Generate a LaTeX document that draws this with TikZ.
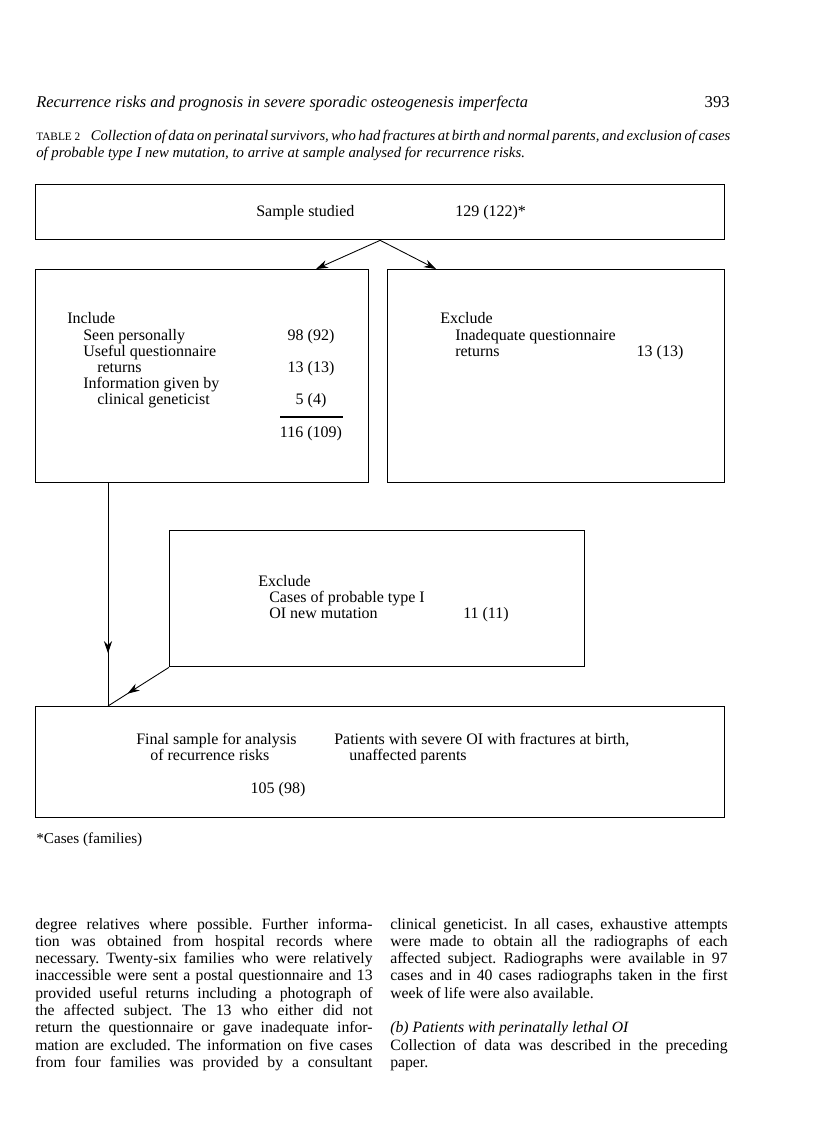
\documentclass[tikz,border=0pt]{standalone}
\usepackage{fontspec}
\setmainfont{Liberation Serif}
\usetikzlibrary{arrows.meta,decorations.markings,calc}
\frenchspacing
\newcommand{\jline}[1]{\makebox[253pt][s]{#1}}

\begin{document}
\begin{tikzpicture}[x=0.75pt,y=-0.75pt,
  box/.style={draw, line width=1pt, inner sep=0pt, anchor=north west},
  conn/.style={line width=0.65pt},
  tiparrow/.style={-{Stealth[length=9pt,width=6pt]}},
  midarrow/.style={decoration={markings, mark=at position #1 with {\arrow{Stealth[length=9pt,width=6pt]}}}, postaction={decorate}},
  tl/.style={anchor=base west, inner sep=0pt, font=\fontsize{12}{12}\selectfont},
  tn/.style={anchor=base, inner sep=0pt, font=\fontsize{12}{12}\selectfont},
  body/.style={anchor=base west, inner sep=0pt, font=\fontsize{11.8}{13}\selectfont}]
\useasboundingbox (0,0) rectangle (816,1142);

% header
\node[anchor=base west, inner sep=0pt, font=\fontsize{12.3}{13}\selectfont\itshape] (hd) at (36,107) {Recurrence risks and prognosis in severe sporadic osteogenesis imperfecta};
\node[anchor=base east, inner sep=0pt, font=\fontsize{12.5}{13}\selectfont] (pg) at (730,107) {393};
\node[anchor=base west, inner sep=0pt, font=\fontsize{11}{13}\selectfont] (cap1) at (36,140) {\makebox[520.5pt][s]{{\fontsize{8.5}{9}\selectfont TABLE\kern2pt 2}\kern8pt\itshape Collection of data on perinatal survivors, who had fractures at birth and normal parents, and exclusion of cases}};
\node[anchor=base west, inner sep=0pt, font=\fontsize{11.1}{13}\selectfont\itshape] (cap2) at (36,157) {of probable type I new mutation, to arrive at sample analysed for recurrence risks.};

% boxes
\node[box, minimum width=516.75pt, minimum height=41.25pt] (b1) at (35,184) {};
\node[box, minimum width=249.75pt, minimum height=159.75pt] (lb) at (35,269) {};
\node[box, minimum width=252.75pt, minimum height=159.75pt] (rb) at (387,269) {};
\node[box, minimum width=311.25pt, minimum height=102pt] (mb) at (169,530) {};
\node[box, minimum width=516.75pt, minimum height=83.25pt] (fb) at (35,706) {};

% box 1 text
\node[tl] (s1) at (256,216) {Sample studied};
\node[tl] (s2) at (455,216) {129 (122)*};

% left box text
\node[tl] (i0) at (67,323) {Include};
\node[tl] (i1) at (83,340) {Seen personally};
\node[tn] (n1) at (311,340) {98 (92)};
\node[tl] (i2) at (83,356) {Useful questionnaire};
\node[tl] (i3) at (97,372) {returns};
\node[tn] (n2) at (311,372) {13 (13)};
\node[tl] (i4) at (83,388) {Information given by};
\node[tl] (i5) at (97,404) {clinical geneticist};
\node[tn] (n3) at (311,404) {5 (4)};
\draw[line width=0.8pt] (280,417) -- (343,417);
\node[tn] (n4) at (311,437) {116 (109)};

% right box text
\node[tl] (e0) at (440,323) {Exclude};
\node[tl] (e1) at (455,340) {Inadequate questionnaire};
\node[tl] (e2) at (455,356) {returns};
\node[tn] (e3) at (660,356) {13 (13)};

% middle box text
\node[tl] (m0) at (258,586) {Exclude};
\node[tl] (m1) at (269,602) {Cases of probable type I};
\node[tl] (m2) at (269,618) {OI new mutation};
\node[tn] (m3) at (486,618) {11 (11)};

% final box text
\node[tl] (f0) at (136,744) {Final sample for analysis};
\node[tl] (f1) at (150,760) {of recurrence risks};
\node[tl] (f2) at (334,744) {Patients with severe OI with fractures at birth,};
\node[tl] (f3) at (349,760) {unaffected parents};
\node[tn] (f4) at (278,793) {105 (98)};

\node[anchor=base west, inner sep=0pt, font=\fontsize{11.4}{12}\selectfont] (fn) at (36,843) {*Cases (families)};

% connectors
\coordinate (la) at ($(lb.north west)+(281,0)$);
\coordinate (ra) at ($(rb.north west)+(49,0)$);
\coordinate (lbo) at ($(lb.south west)+(73,0)$);
\coordinate (fbi) at ($(fb.north west)+(73,0)$);
\draw[conn, tiparrow] (b1.south) -- (la);
\draw[conn, tiparrow] (b1.south) -- (ra);
\draw[conn, midarrow=0.763] (lbo) -- (fbi);
\draw[conn, midarrow=0.68] (mb.south west) -- (fbi);

% body text, left column
\node[body] (l1) at (35,929) {\jline{degree relatives where possible. Further informa-}};
\node[body] (l2) at (35,946.3) {\jline{tion was obtained from hospital records where}};
\node[body] (l3) at (35,963.6) {\jline{necessary. Twenty-six families who were relatively}};
\node[body] (l4) at (35,980.9) {\jline{inaccessible were sent a postal questionnaire and 13}};
\node[body] (l5) at (35,998.2) {\jline{provided useful returns including a photograph of}};
\node[body] (l6) at (35,1015.5) {\jline{the affected subject. The 13 who either did not}};
\node[body] (l7) at (35,1032.8) {\jline{return the questionnaire or gave inadequate infor-}};
\node[body] (l8) at (35,1050.1) {\jline{mation are excluded. The information on five cases}};
\node[body] (l9) at (35,1067.4) {\jline{from four families was provided by a consultant}};

% body text, right column
\node[body] (r1) at (390,929) {\jline{clinical geneticist. In all cases, exhaustive attempts}};
\node[body] (r2) at (390,946.3) {\jline{were made to obtain all the radiographs of each}};
\node[body] (r3) at (390,963.6) {\jline{affected subject. Radiographs were available in 97}};
\node[body] (r4) at (390,980.9) {\jline{cases and in 40 cases radiographs taken in the first}};
\node[body] (r5) at (390,998.2) {week of life were also available.};
\node[body] (r7) at (390,1032.8) {\itshape (b) Patients with perinatally lethal OI};
\node[body] (r8) at (390,1050.1) {\jline{Collection of data was described in the preceding}};
\node[body] (r9) at (390,1067.4) {paper.};
\end{tikzpicture}
\end{document}
